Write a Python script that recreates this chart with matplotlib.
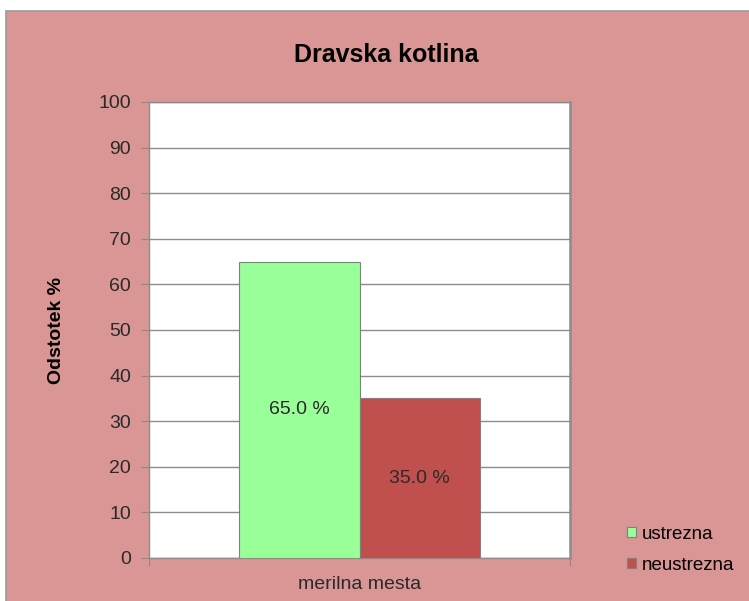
import numpy as np
import matplotlib.pyplot as plt
from matplotlib.patches import Rectangle

plt.rcParams['font.family'] = ['Liberation Sans', 'DejaVu Sans']

title = 'Dravska kotlina'
category = 'merilna mesta'
series = ['ustrezna', 'neustrezna']
values = [65.0, 35.0]
colors = ['#99FF99', '#C0504D']

fig = plt.figure(figsize=(7.49, 6.01), dpi=100)
fig.patch.set_facecolor('white')

# pink chart area with thin grey border
bg = Rectangle((6 / 749, -0.05), 1.2, 1.05 - 11 / 601, transform=fig.transFigure,
               facecolor='#D99694', edgecolor='#9a9a9a', linewidth=1.2, zorder=-10)
fig.patches.append(bg)

ax = fig.add_axes([149 / 749, 1 - 558 / 601, (570 - 149) / 749, (558 - 102) / 601])
ax.set_facecolor('white')

width = 0.286
x_pos = np.array([-0.5, 0.5]) * width
bars = ax.bar(x_pos, values, width=width, color=colors, edgecolor='#808080',
              linewidth=0.8, label=series, zorder=3)

for b, v in zip(bars, values):
    ax.text(b.get_x() + b.get_width() / 2, v / 2, '%.1f %%' % v,
            ha='center', va='center', fontsize=14, color='#2a2a2a', zorder=4)

ax.set_xlim(-0.5, 0.5)
ax.set_ylim(0, 100)
ax.set_yticks(np.arange(0, 101, 10))
ax.yaxis.grid(True, color='#8c8c8c', linewidth=1.0, zorder=0)
ax.set_axisbelow(True)

ax.set_xticks([-0.5, 0.5])
ax.set_xticklabels(['', ''])
ax.set_xticks([0], minor=True)
ax.set_xticklabels([category], minor=True)
ax.tick_params(axis='x', which='major', length=6, color='#8c8c8c', direction='out')
ax.tick_params(axis='x', which='minor', length=0, pad=13, labelsize=14, labelcolor='#2a2a2a')
ax.tick_params(axis='y', length=6, color='#8c8c8c', pad=7, labelsize=14, labelcolor='#2a2a2a')

for s in ax.spines.values():
    s.set_color('#8c8c8c')
    s.set_linewidth(1.0)
ax.spines['right'].set_linewidth(1.8)

ax.set_ylabel('Odstotek %', fontsize=14, fontweight='bold', labelpad=24)
fig.text(386 / 749, 1 - 55 / 601, title, ha='center', va='center',
         fontsize=18, fontweight='bold')

fig.legend(handles=bars, labels=series, loc='center left',
           bbox_to_anchor=(618 / 749, 1 - 550 / 601), frameon=False,
           fontsize=13.5, handlelength=0.45, handleheight=0.45,
           handletextpad=0.3, labelspacing=0.75, borderpad=0)

fig.savefig('out.png', dpi=100, facecolor=fig.get_facecolor())
